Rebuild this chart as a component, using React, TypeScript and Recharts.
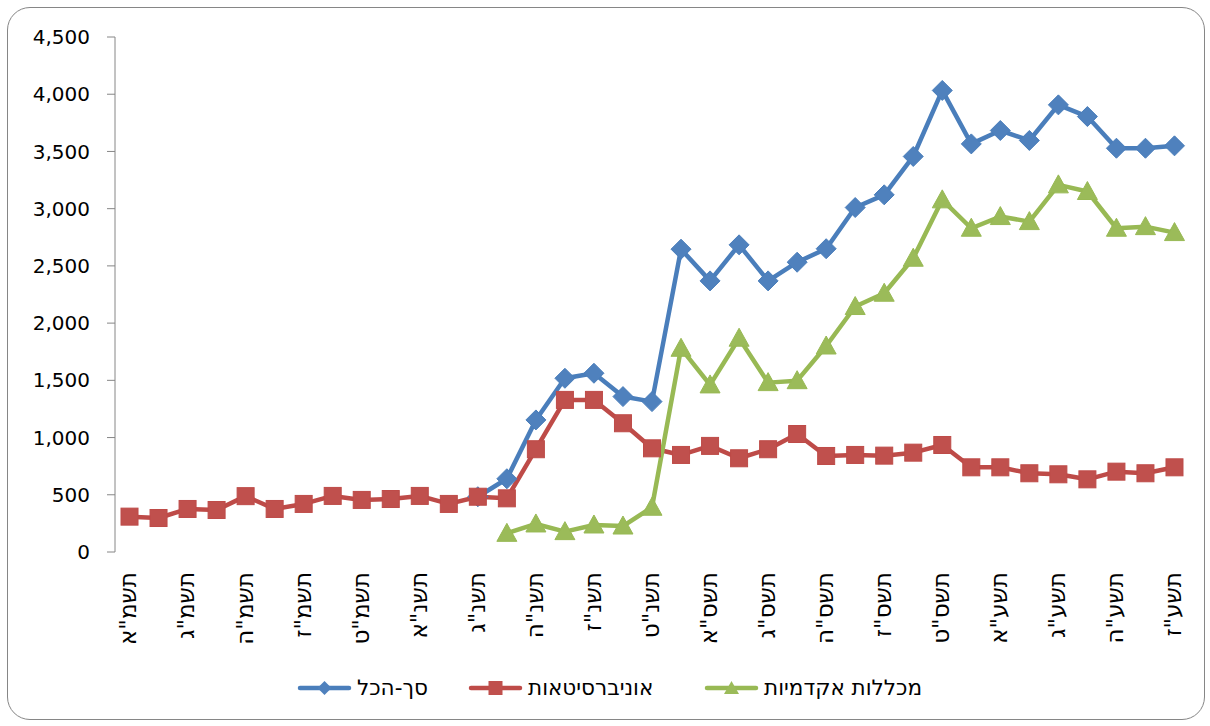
import React from "react";
import { LineChart, Line, XAxis, YAxis } from "recharts";

const years: string[] = [
  'תשמ"א', 'תשמ"ב', 'תשמ"ג', 'תשמ"ד', 'תשמ"ה', 'תשמ"ו', 'תשמ"ז', 'תשמ"ח', 'תשמ"ט', 'תש"ן',
  'תשנ"א', 'תשנ"ב', 'תשנ"ג', 'תשנ"ד', 'תשנ"ה', 'תשנ"ו', 'תשנ"ז', 'תשנ"ח', 'תשנ"ט', 'תש"ס',
  'תשס"א', 'תשס"ב', 'תשס"ג', 'תשס"ד', 'תשס"ה', 'תשס"ו', 'תשס"ז', 'תשס"ח', 'תשס"ט', 'תש"ע',
  'תשע"א', 'תשע"ב', 'תשע"ג', 'תשע"ד', 'תשע"ה', 'תשע"ו', 'תשע"ז',
];

const total: (number | null)[] = [
  null, null, null, null, null, null, null, null, null, null,
  null, null, 483, 640, 1154, 1518, 1562, 1358, 1314, 2646,
  2369, 2684, 2369, 2532, 2650, 3010, 3121, 3456, 4033, 3566,
  3683, 3596, 3907, 3805, 3528, 3528, 3549,
];

const universities: number[] = [
  309, 297, 376, 367, 488, 376, 420, 490, 455, 463,
  490, 420, 483, 469, 898, 1329, 1329, 1125, 906, 848,
  927, 819, 898, 1031, 839, 848, 842, 868, 935, 740,
  740, 688, 679, 635, 702, 688, 740,
];

const colleges: (number | null)[] = [
  null, null, null, null, null, null, null, null, null, null,
  null, null, null, 163, 245, 178, 236, 227, 391, 1780,
  1460, 1868, 1480, 1497, 1800, 2145, 2261, 2567, 3077, 2829,
  2931, 2887, 3208, 3150, 2829, 2843, 2791,
];

const yTicks: number[] = [0, 500, 1000, 1500, 2000, 2500, 3000, 3500, 4000, 4500];

const seriesNames = ["סך-הכל", "אוניברסיטאות", "מכללות אקדמיות"];

const data = years.map((y, i) => ({
  i,
  year: y,
  total: total[i],
  uni: universities[i],
  col: colleges[i],
}));

const boundaryTicks = years.map((_, i) => i - 0.5).concat([years.length - 0.5]);
const labelTicks = years.map((_, i) => i).filter((i) => i % 2 === 0);

const FONT = "DejaVu Sans";

const BLUE_LINE = "#4A7EBB";
const BLUE_FILL = "#4F81BD";
const RED_LINE = "#BE4B48";
const RED_FILL = "#C0504D";
const GREEN_LINE = "#98B954";
const GREEN_FILL = "#9BBB59";

const YearTick = (props: any) => {
  const { x, y, payload } = props;
  return (
    <text
      x={x}
      y={y}
      dy="0.3em"
      textAnchor="end"
      transform={`rotate(-90 ${x} ${y})`}
      fontSize={23}
      fill="#000"
      fontFamily={FONT}
    >
      {years[payload.value]}
    </text>
  );
};

const Diamond = (props: any) => {
  const { cx, cy, index } = props;
  if (cx == null || cy == null || props.value == null) return <g key={`d${index}`} />;
  return (
    <polygon
      key={`d${index}`}
      points={`${cx},${cy - 10} ${cx + 10},${cy} ${cx},${cy + 10} ${cx - 10},${cy}`}
      fill={BLUE_FILL}
      stroke={BLUE_LINE}
      strokeWidth={1}
    />
  );
};

const Square = (props: any) => {
  const { cx, cy, index } = props;
  if (cx == null || cy == null || props.value == null) return <g key={`s${index}`} />;
  return (
    <rect
      key={`s${index}`}
      x={cx - 8.5}
      y={cy - 8.5}
      width={17}
      height={17}
      fill={RED_FILL}
      stroke={RED_LINE}
      strokeWidth={1}
    />
  );
};

const Triangle = (props: any) => {
  const { cx, cy, index } = props;
  if (cx == null || cy == null || props.value == null) return <g key={`t${index}`} />;
  return (
    <polygon
      key={`t${index}`}
      points={`${cx},${cy - 10} ${cx + 10},${cy + 8} ${cx - 10},${cy + 8}`}
      fill={GREEN_FILL}
      stroke={GREEN_LINE}
      strokeWidth={1}
    />
  );
};

const LegendIcon = ({ kind }: { kind: number }) => {
  const color = kind === 0 ? BLUE_LINE : kind === 1 ? RED_LINE : GREEN_LINE;
  const fill = kind === 0 ? BLUE_FILL : kind === 1 ? RED_FILL : GREEN_FILL;
  const cx = 27.5;
  const cy = 12;
  return (
    <svg width={55} height={24} style={{ display: "block" }}>
      <line x1={3} y1={cy} x2={52} y2={cy} stroke={color} strokeWidth={4.5} strokeLinecap="round" />
      {kind === 0 && (
        <polygon points={`${cx},${cy - 7} ${cx + 7},${cy} ${cx},${cy + 7} ${cx - 7},${cy}`} fill={fill} />
      )}
      {kind === 1 && <rect x={cx - 7} y={cy - 7} width={14} height={14} fill={fill} />}
      {kind === 2 && (
        <polygon points={`${cx},${cy - 7} ${cx + 7.5},${cy + 6} ${cx - 7.5},${cy + 6}`} fill={fill} />
      )}
    </svg>
  );
};

const legendLefts = [297, 468, 704];

export default function App() {
  return (
    <div
      style={{
        position: "absolute",
        left: 0,
        top: 0,
        width: 1210,
        height: 726,
        background: "#fff",
        fontFamily: FONT,
      }}
    >
      <div
        style={{
          position: "absolute",
          left: 7,
          top: 7,
          width: 1196,
          height: 711,
          border: "1.5px solid #868686",
          borderRadius: 23,
          boxSizing: "content-box",
        }}
      />
      <div style={{ position: "absolute", left: 0, top: 0 }}>
        <LineChart
          width={1210}
          height={726}
          data={data}
          margin={{ top: 37, right: 21, bottom: 0, left: 0 }}
        >
          <YAxis
            type="number"
            domain={[0, 4500]}
            ticks={yTicks}
            interval={0}
            width={115}
            tickSize={8}
            tickMargin={17}
            stroke="#868686"
            tick={{ fill: "#000", fontSize: 20, fontFamily: FONT }}
            tickFormatter={(v: number) => v.toLocaleString("en-US")}
          />
          <XAxis
            xAxisId="t"
            type="number"
            dataKey="i"
            domain={[-0.5, years.length - 0.5]}
            ticks={boundaryTicks}
            interval={0}
            tick={false}
            tickSize={8}
            height={0}
            stroke="#868686"
          />
          <XAxis
            xAxisId="l"
            type="number"
            dataKey="i"
            domain={[-0.5, years.length - 0.5]}
            ticks={labelTicks}
            interval={0}
            tickLine={false}
            axisLine={false}
            tickSize={8}
            tickMargin={12}
            height={174}
            tick={<YearTick />}
          />
          <Line
            xAxisId="l"
            dataKey="total"
            name={seriesNames[0]}
            stroke={BLUE_LINE}
            strokeWidth={4.5}
            strokeLinejoin="round"
            dot={Diamond}
            activeDot={false}
            isAnimationActive={false}
          />
          <Line
            xAxisId="l"
            dataKey="uni"
            name={seriesNames[1]}
            stroke={RED_LINE}
            strokeWidth={4.5}
            strokeLinejoin="round"
            dot={Square}
            activeDot={false}
            isAnimationActive={false}
          />
          <Line
            xAxisId="l"
            dataKey="col"
            name={seriesNames[2]}
            stroke={GREEN_LINE}
            strokeWidth={4.5}
            strokeLinejoin="round"
            dot={Triangle}
            activeDot={false}
            isAnimationActive={false}
          />
        </LineChart>
      </div>
      {seriesNames.map((n, k) => (
        <div
          key={n}
          style={{
            position: "absolute",
            left: legendLefts[k],
            top: 676,
            height: 24,
            display: "flex",
            alignItems: "center",
            whiteSpace: "nowrap",
          }}
        >
          <LegendIcon kind={k} />
          <span style={{ marginLeft: 5, fontSize: 21.5, color: "#000", lineHeight: "24px" }}>{n}</span>
        </div>
      ))}
    </div>
  );
}
